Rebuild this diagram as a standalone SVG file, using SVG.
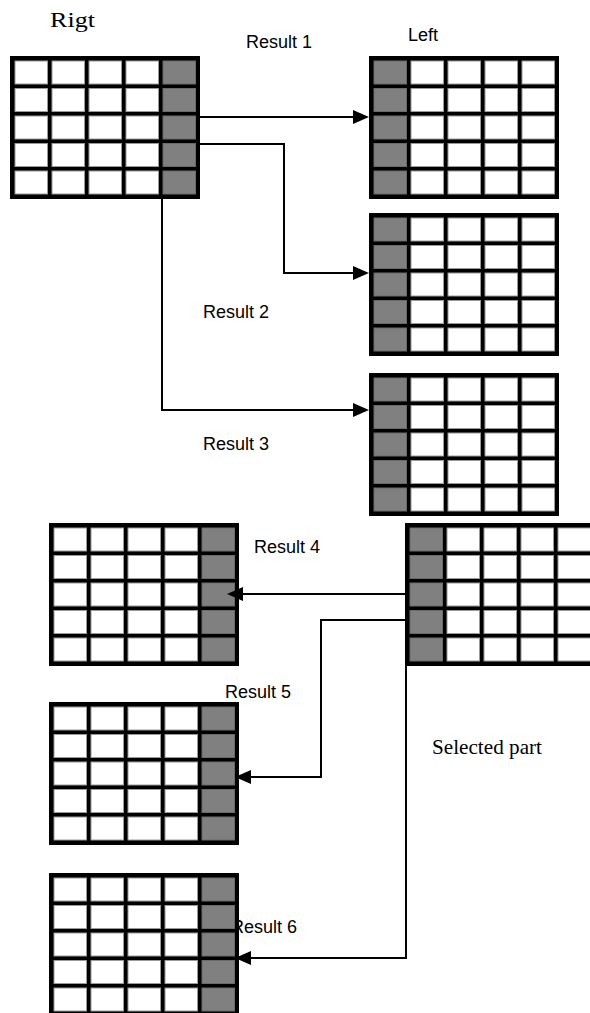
<svg xmlns="http://www.w3.org/2000/svg" width="590" height="1013" viewBox="0 0 590 1013">
  <style>
    .bg { fill: #000; }
    .w { fill: #fff; stroke: #9a9a9a; stroke-width: 1; }
    .g { fill: #808080; stroke: #6a6a6a; stroke-width: 1; }
    .sans { font-family: "Liberation Sans", Arial, sans-serif; font-size: 18px; fill: #000; }
    .serif { font-family: "Liberation Serif", "Times New Roman", serif; fill: #000; }
    .conn { fill: none; stroke: #000; stroke-width: 2; }
  </style>
  <defs>
    <marker id="arrow" viewBox="0 0 16 14" refX="8" refY="7" markerWidth="16" markerHeight="14" markerUnits="userSpaceOnUse" orient="auto">
      <path d="M0,0 L16,7 L0,14 Z" fill="#000"/>
    </marker>
    <g id="rows">
      <rect class="bg" x="0" y="0" width="190" height="143"/>
    </g>
    <g id="whiteRow">
      <rect class="w" x="42" y="0" width="32.5" height="23"/>
      <rect class="w" x="79" y="0" width="32.5" height="23"/>
      <rect class="w" x="116" y="0" width="32.5" height="23"/>
    </g>
    <g id="rowRight">
      <rect class="w" x="5" y="0" width="32.5" height="23"/>
      <use href="#whiteRow"/>
      <rect class="g" x="153" y="0" width="32.5" height="23"/>
    </g>
    <g id="rowLeft">
      <rect class="g" x="5" y="0" width="32.5" height="23"/>
      <use href="#whiteRow"/>
      <rect class="w" x="153" y="0" width="32.5" height="23"/>
    </g>
    <g id="gridRight">
      <rect class="bg" x="0" y="0" width="190" height="143"/>
      <use href="#rowRight" y="5"/>
      <use href="#rowRight" y="32.5"/>
      <use href="#rowRight" y="60"/>
      <use href="#rowRight" y="87.5"/>
      <use href="#rowRight" y="115"/>
    </g>
    <g id="gridLeft">
      <rect class="bg" x="0" y="0" width="190" height="143"/>
      <use href="#rowLeft" y="5"/>
      <use href="#rowLeft" y="32.5"/>
      <use href="#rowLeft" y="60"/>
      <use href="#rowLeft" y="87.5"/>
      <use href="#rowLeft" y="115"/>
    </g>
  </defs>

  <rect x="0" y="0" width="590" height="1013" fill="#fff"/>

  <g id="labels">
    <text class="serif" x="50" y="27" font-size="21" textLength="45" lengthAdjust="spacingAndGlyphs">Rigt</text>
    <text class="sans" x="246" y="48">Result 1</text>
    <text class="sans" x="408" y="41">Left</text>
    <text class="sans" x="203" y="318">Result 2</text>
    <text class="sans" x="203" y="450">Result 3</text>
    <text class="sans" x="254" y="553">Result 4</text>
    <text class="sans" x="225" y="698">Result 5</text>
    <text class="sans" x="231" y="933">Result 6</text>
    <text class="serif" x="432" y="754" font-size="21.5" textLength="110" lengthAdjust="spacingAndGlyphs">Selected part</text>
  </g>

  <g id="grid-rigt"><use href="#gridRight" x="10" y="56"/></g>
  <g id="grid-left"><use href="#gridLeft" x="369" y="56"/></g>
  <g id="grid-result2"><use href="#gridLeft" x="369" y="213"/></g>
  <g id="grid-result3"><use href="#gridLeft" x="369" y="373"/></g>
  <g id="grid-result4"><use href="#gridRight" x="49" y="523"/></g>
  <g id="grid-selected"><use href="#gridLeft" x="405" y="523"/></g>
  <g id="grid-result5"><use href="#gridRight" x="49" y="702"/></g>
  <g id="grid-result6"><use href="#gridRight" x="49" y="873"/></g>

  <g id="connectors">
    <path class="conn" d="M200,117 H361" marker-end="url(#arrow)"/>
    <path class="conn" d="M200,144 H284 V273 H361" marker-end="url(#arrow)"/>
    <path class="conn" d="M162,199 V410 H361" marker-end="url(#arrow)"/>
    <path class="conn" d="M405,594 H235" marker-end="url(#arrow)"/>
    <path class="conn" d="M405,620 H321 V777 H243" marker-end="url(#arrow)"/>
    <path class="conn" d="M406,664 V958 H243" marker-end="url(#arrow)"/>
  </g>
</svg>
